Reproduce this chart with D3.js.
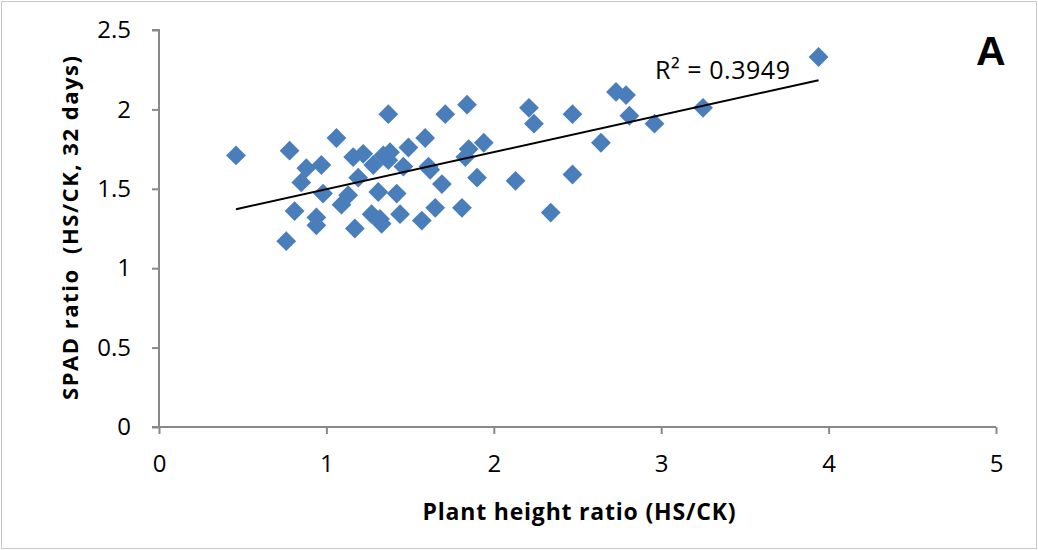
<!DOCTYPE html>
<html>
<head>
<meta charset="utf-8">
<script src="https://cdn.jsdelivr.net/npm/d3@7"></script>
<style>
  body { margin: 0; background: #fff; }
  text { font-family: "Open Sans", sans-serif; fill: #000; }
</style>
</head>
<body>
<div id="container"></div>
<script>
/* DATA */
// plant height ratio (HS/CK)
const heightRatio = [0.46, 0.78, 0.76, 0.81, 0.85, 0.88, 0.94, 0.94, 0.97, 0.98,
  1.06, 1.09, 1.13, 1.16, 1.17, 1.19, 1.22, 1.27, 1.28, 1.31,
  1.32, 1.33, 1.34, 1.37, 1.37, 1.38, 1.42, 1.44, 1.46, 1.49,
  1.57, 1.59, 1.61, 1.62, 1.65, 1.69, 1.71, 1.81, 1.83, 1.84,
  1.85, 1.90, 1.94, 2.13, 2.21, 2.24, 2.34, 2.47, 2.47, 2.64,
  2.73, 2.79, 2.81, 2.96, 3.25, 3.94]
// SPAD ratio (HS/CK, 32 days)
const spadRatio = [1.71, 1.74, 1.17, 1.36, 1.54, 1.63, 1.32, 1.27, 1.65, 1.47,
  1.82, 1.40, 1.46, 1.70, 1.25, 1.57, 1.72, 1.34, 1.65, 1.48,
  1.31, 1.28, 1.71, 1.97, 1.68, 1.73, 1.47, 1.34, 1.64, 1.76,
  1.30, 1.82, 1.64, 1.62, 1.38, 1.53, 1.97, 1.38, 1.70, 2.03,
  1.75, 1.57, 1.79, 1.55, 2.01, 1.91, 1.35, 1.97, 1.59, 1.79,
  2.11, 2.09, 1.96, 1.91, 2.01, 2.33]
const xTicks = [0, 1, 2, 3, 4, 5]
const yTicks = [0, 0.5, 1, 1.5, 2, 2.5]
const rSquaredLabel = "R² = 0.3949"
const panelLabel = "A"

const data = heightRatio.map((x, i) => ({ x: x, y: spadRatio[i] }))

/* CONSTANTS */
const width = 1038,
  height = 550,
  margin = { top: 30, bottom: 123, left: 159, right: 42 },
  axisColor = "#898989",
  dotColor = "#4a7ebb"

/* SCALES */
const xScale = d3.scaleLinear()
  .domain([0, 5])
  .range([margin.left, width - margin.right])

const yScale = d3.scaleLinear()
  .domain([0, 2.5])
  .range([height - margin.bottom, margin.top])

/* SVG */
const svg = d3.select("#container")
  .append("svg")
  .attr("width", width)
  .attr("height", height)

// outer frame
svg.append("rect")
  .attr("x", 1.5)
  .attr("y", 1.5)
  .attr("width", width - 3)
  .attr("height", height - 3)
  .attr("fill", "none")
  .attr("stroke", "#c8c8c8")

// axes
const xAxis = d3.axisBottom(xScale)
  .tickValues(xTicks)
  .tickFormat(d3.format("d"))
  .tickSize(7)
  .tickPadding(21)
const gx = svg.append("g")
  .attr("transform", `translate(0,${yScale(0)})`)
  .call(xAxis)

const yAxis = d3.axisLeft(yScale)
  .tickValues(yTicks)
  .tickFormat(d => d)
  .tickSize(7)
  .tickPadding(21)
const gy = svg.append("g")
  .attr("transform", `translate(${xScale(0)},0)`)
  .call(yAxis)

svg.selectAll(".domain, .tick line")
  .attr("stroke", axisColor)
  .attr("stroke-width", 2)
svg.selectAll(".tick text")
  .style("font-family", "'Open Sans', sans-serif")
  .style("font-size", "24px")
  .attr("fill", "#000")
gy.select(".domain").attr("d", `M-7,${yScale(2.5)}H0V${yScale(0)}`)
gx.select(".domain").attr("d", `M${xScale(0) - 7},0H${xScale(5)}`)

// trend line (least squares)
const mx = d3.mean(data, d => d.x), my = d3.mean(data, d => d.y)
const slope = d3.sum(data, d => (d.x - mx) * (d.y - my)) / d3.sum(data, d => (d.x - mx) ** 2)
const intercept = my - slope * mx
const xExt = d3.extent(data, d => d.x)

// points
svg.selectAll(".dot")
  .data(data)
  .join("path")
  .attr("class", "dot")
  .attr("d", d3.symbol().type(d3.symbolDiamond2).size(250))
  .attr("transform", d => `translate(${xScale(d.x)},${yScale(d.y)})`)
  .attr("fill", dotColor)

svg.append("line")
  .attr("x1", xScale(xExt[0]))
  .attr("y1", yScale(intercept + slope * xExt[0]))
  .attr("x2", xScale(xExt[1]))
  .attr("y2", yScale(intercept + slope * xExt[1]))
  .attr("stroke", "#000")
  .attr("stroke-width", 2)

// R² label
svg.append("text")
  .attr("x", 655)
  .attr("y", 79)
  .style("font-size", "25px")
  .attr("textLength", 135)
  .text(rSquaredLabel)

// panel label
svg.append("text")
  .attr("x", 976)
  .attr("y", 65)
  .style("font-family", "'Liberation Sans', Arial, sans-serif")
  .style("font-weight", "bold")
  .style("font-size", "41px")
  .text(panelLabel)

// axis titles
svg.append("text")
  .attr("x", 579)
  .attr("y", 520)
  .attr("text-anchor", "middle")
  .attr("textLength", 313)
  .style("font-weight", "bold")
  .style("font-size", "23px")
  .text("Plant height ratio (HS/CK)")

svg.append("text")
  .attr("transform", `translate(78,228) rotate(-90)`)
  .attr("text-anchor", "middle")
  .attr("textLength", 344)
  .style("font-weight", "bold")
  .style("font-size", "22px")
  .style("white-space", "pre")
  .text("SPAD ratio  (HS/CK, 32 days)")
</script>
</body>
</html>
